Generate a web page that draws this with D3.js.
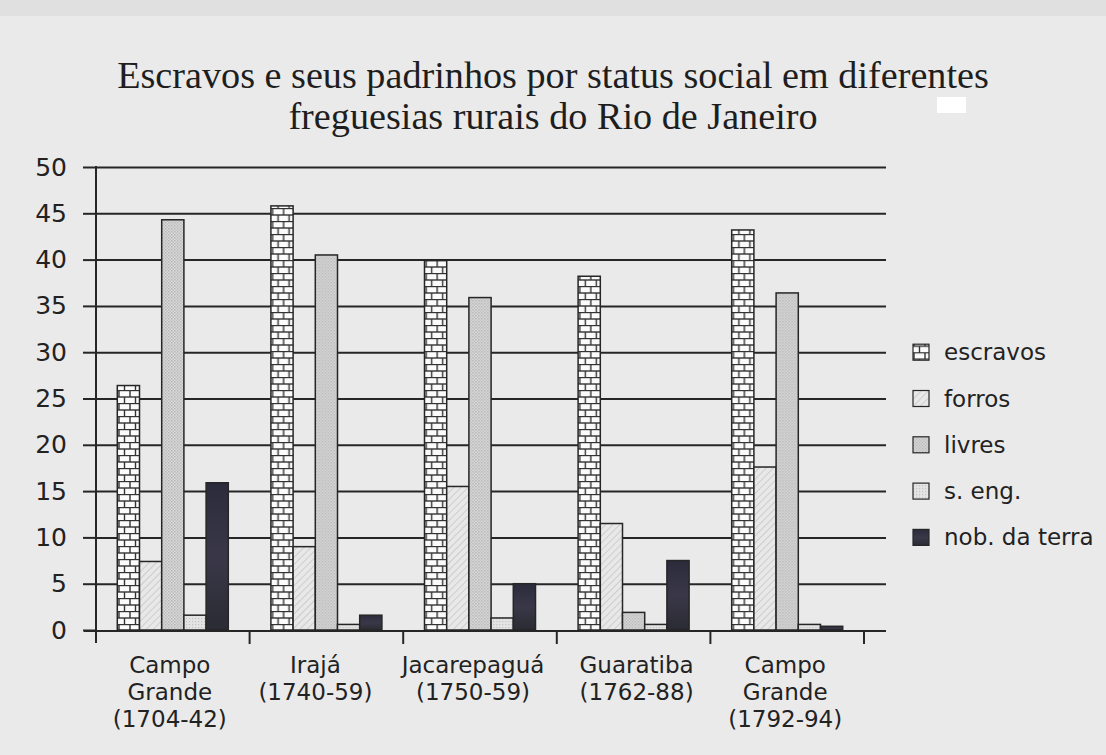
<!DOCTYPE html>
<html>
<head>
<meta charset="utf-8">
<script src="https://cdn.jsdelivr.net/npm/d3@7/dist/d3.min.js"></script>
<style>
  html, body { margin: 0; padding: 0; background: #eaeaea; }
  svg { display: block; }
</style>
</head>
<body>
<svg id="chart" width="1106" height="755"></svg>
<script>
// ---------- DATA ----------
const titleLines = ["Escravos e seus padrinhos por status social em diferentes",
                    "freguesias rurais do Rio de Janeiro"];
const categories = ["Campo Grande (1704-42)", "Irajá (1740-59)", "Jacarepaguá (1750-59)",
                    "Guaratiba (1762-88)", "Campo Grande (1792-94)"];
const categoryLines = [["Campo", "Grande", "(1704-42)"], ["Irajá", "(1740-59)"],
                       ["Jacarepaguá", "(1750-59)"], ["Guaratiba", "(1762-88)"],
                       ["Campo", "Grande", "(1792-94)"]];
const seriesNames = ["escravos", "forros", "livres", "s. eng.", "nob. da terra"];
const escravos = [26.4, 45.8, 39.9, 38.2, 43.2];
const forros   = [7.4, 9.0, 15.5, 11.5, 17.6];
const livres   = [44.3, 40.5, 35.9, 1.9, 36.4];
const sEng     = [1.6, 0.6, 1.3, 0.6, 0.6];
const nobTerra = [15.9, 1.6, 5.0, 7.5, 0.4];
const seriesValues = [escravos, forros, livres, sEng, nobTerra];
const yTicks = [0, 5, 10, 15, 20, 25, 30, 35, 40, 45, 50];
const legendRowsAt = [30, 25, 20, 15, 10];

(function () {
// ---------- LAYOUT ----------
const svg = d3.select("#chart");
const mLeft = 96, mRight = 864, mTop = 167, mBottom = 630, gridRight = 886;
const barW = 22.2;
const labelNudge = [0, -8, -4, 6, 1];
const sans = "'DejaVu Sans', 'Noto Sans', sans-serif";

const x0 = d3.scaleBand().domain(categories).range([mLeft, mRight]).padding(0);
const pad = (x0.bandwidth() - barW * seriesNames.length) / 2;
const x1 = d3.scaleBand().domain(seriesNames).range([pad, x0.bandwidth() - pad]).padding(0);
const y = d3.scaleLinear().domain([0, 50]).range([mBottom, mTop]);

// background artifacts
svg.append("rect").attr("x", 0).attr("y", 0).attr("width", 1106).attr("height", 755).attr("fill", "#eaeaea");
svg.append("rect").attr("x", 0).attr("y", 0).attr("width", 1106).attr("height", 16).attr("fill", "#e0e0e0");
svg.append("rect").attr("x", 937).attr("y", 97).attr("width", 29).attr("height", 16).attr("fill", "#ffffff");

// ---------- PATTERNS ----------
const defs = svg.append("defs");
const ink = "#262626";
// brick
const pb = defs.append("pattern").attr("id", "p-escravos").attr("patternUnits", "userSpaceOnUse")
  .attr("width", 11).attr("height", 13);
pb.append("rect").attr("width", 11).attr("height", 13).attr("fill", "#fbfbfb");
pb.append("line").attr("x1", 0).attr("x2", 11).attr("y1", 0.5).attr("y2", 0.5).attr("stroke", "#333").attr("stroke-width", 1.4);
pb.append("line").attr("x1", 0).attr("x2", 11).attr("y1", 7).attr("y2", 7).attr("stroke", "#333").attr("stroke-width", 1.4);
pb.append("line").attr("x1", 1).attr("x2", 1).attr("y1", 0).attr("y2", 7).attr("stroke", "#333").attr("stroke-width", 1.4);
pb.append("line").attr("x1", 6.5).attr("x2", 6.5).attr("y1", 7).attr("y2", 13).attr("stroke", "#333").attr("stroke-width", 1.4);
// hatch
const ph = defs.append("pattern").attr("id", "p-forros").attr("patternUnits", "userSpaceOnUse")
  .attr("width", 5).attr("height", 5).attr("patternTransform", "rotate(45)");
ph.append("rect").attr("width", 5).attr("height", 5).attr("fill", "#e8e8e8");
ph.append("line").attr("x1", 0).attr("x2", 0).attr("y1", 0).attr("y2", 5).attr("stroke", "#c4c4c4").attr("stroke-width", 1.5);
// stipple (livres)
const pl = defs.append("pattern").attr("id", "p-livres").attr("patternUnits", "userSpaceOnUse")
  .attr("width", 3).attr("height", 3);
pl.append("rect").attr("width", 3).attr("height", 3).attr("fill", "#dadada");
pl.append("rect").attr("width", 1.5).attr("height", 1.5).attr("fill", "#b6b6b6");
pl.append("rect").attr("x", 1.5).attr("y", 1.5).attr("width", 1.5).attr("height", 1.5).attr("fill", "#c0c0c0");
// stipple light (s. eng.)
const ps = defs.append("pattern").attr("id", "p-seng").attr("patternUnits", "userSpaceOnUse")
  .attr("width", 3).attr("height", 3);
ps.append("rect").attr("width", 3).attr("height", 3).attr("fill", "#e4e4e4");
ps.append("rect").attr("width", 1.2).attr("height", 1.2).attr("fill", "#c2c2c2");
// dark
const pn = defs.append("linearGradient").attr("id", "p-nob").attr("x1", 0).attr("x2", 0).attr("y1", 0).attr("y2", 1);
pn.append("stop").attr("offset", "0%").attr("stop-color", "#2b2b3b");
pn.append("stop").attr("offset", "50%").attr("stop-color", "#3a3848");
pn.append("stop").attr("offset", "100%").attr("stop-color", "#2a2b33");

const fills = ["url(#p-escravos)", "url(#p-forros)", "url(#p-livres)", "url(#p-seng)", "url(#p-nob)"];
const color = d3.scaleOrdinal().domain(seriesNames).range(fills);

// ---------- TITLE ----------
const title = svg.append("g").attr("font-family", "'Liberation Serif', 'DejaVu Serif', serif").attr("fill", "#1e1e1e");
const t1 = title.append("text").attr("x", 553).attr("y", 88).attr("text-anchor", "middle").attr("font-size", 33).text(titleLines[0]);
const w = t1.node().getComputedTextLength();
const fs = 33 * 872 / w;
t1.attr("font-size", fs);
title.append("text").attr("x", 553).attr("y", 129).attr("text-anchor", "middle").attr("font-size", fs).text(titleLines[1]);

// ---------- GRID ----------
svg.append("g")
  .attr("transform", `translate(${mLeft},0)`)
  .call(d3.axisLeft(y).tickValues(yTicks.filter(d => d > 0)).tickSize(-(gridRight - mLeft)).tickFormat(""))
  .call(g => g.select(".domain").remove())
  .call(g => g.selectAll("line").attr("stroke", ink).attr("stroke-width", 2));

// ---------- BARS ----------
const rows = categories.map((c, i) => ({ cat: c, vals: seriesNames.map((s, j) => ({ s, v: seriesValues[j][i] })) }));
svg.append("g").selectAll("g").data(rows).join("g")
  .attr("transform", d => `translate(${x0(d.cat)},0)`)
  .selectAll("rect").data(d => d.vals).join("rect")
  .attr("x", d => x1(d.s))
  .attr("width", x1.bandwidth())
  .attr("y", d => y(d.v))
  .attr("height", d => y(0) - y(d.v))
  .attr("fill", d => color(d.s))
  .attr("stroke", ink)
  .attr("stroke-width", 1.5);

// ---------- Y AXIS ----------
const yAxis = svg.append("g").attr("transform", `translate(${mLeft},0)`)
  .call(d3.axisLeft(y).tickValues(yTicks).tickSizeInner(13).tickSizeOuter(0).tickPadding(16))
  .call(g => g.select(".domain").remove());
yAxis.selectAll("line").attr("stroke", ink).attr("stroke-width", 2);
yAxis.selectAll("text").attr("font-family", sans).attr("font-size", 25).attr("fill", "#222");
svg.append("line").attr("x1", mLeft).attr("x2", mLeft).attr("y1", y(50) - 1).attr("y2", y(0) + 13)
  .attr("stroke", ink).attr("stroke-width", 2);

// ---------- X AXIS ----------
svg.append("line").attr("x1", mLeft - 12).attr("x2", gridRight).attr("y1", y(0) + 1).attr("y2", y(0) + 1)
  .attr("stroke", ink).attr("stroke-width", 2.2);
const edges = categories.map(c => x0(c) + x0.bandwidth());
svg.append("g").selectAll("line").data(edges).join("line")
  .attr("x1", d => d).attr("x2", d => d).attr("y1", y(0)).attr("y2", y(0) + 14)
  .attr("stroke", ink).attr("stroke-width", 2);

const xl = svg.append("g").attr("font-family", sans).attr("font-size", 23).attr("fill", "#222");
categories.forEach((c, i) => {
  const cx = x0(c) + x0.bandwidth() / 2 - 3 + labelNudge[i];
  categoryLines[i].forEach((line, k) =>
    xl.append("text").attr("x", cx).attr("y", 673 + k * 27.2).attr("text-anchor", "middle").text(line));
});

// ---------- LEGEND ----------
const lg = svg.append("g").attr("font-family", sans).attr("font-size", 23).attr("fill", "#222");
const items = lg.selectAll("g").data(seriesNames).join("g")
  .attr("transform", (d, i) => `translate(913,${y(legendRowsAt[i])})`);
items.append("rect").attr("x", 0).attr("y", -8).attr("width", 16).attr("height", 16)
  .attr("fill", d => color(d)).attr("stroke", ink).attr("stroke-width", 1.2);
items.append("text").attr("x", 31).attr("y", 8).text(d => d);
})();
</script>
</body>
</html>
